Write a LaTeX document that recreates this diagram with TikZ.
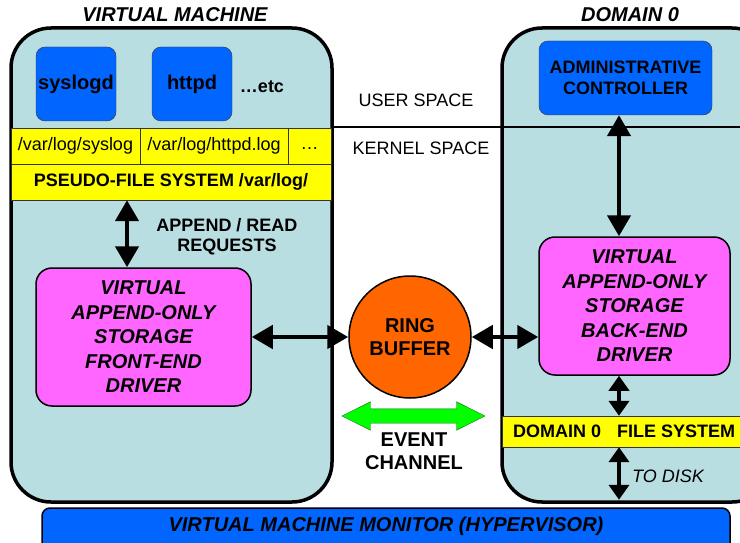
\documentclass[tikz,border=0pt]{standalone}
\usepackage{fontspec}
\setmainfont{Liberation Sans}
\usetikzlibrary{shapes.geometric, shapes.arrows, arrows.meta, positioning, calc}

\definecolor{vmfill}{RGB}{185,222,225}
\definecolor{appblue}{RGB}{0,102,255}
\definecolor{drvpink}{RGB}{255,102,255}
\definecolor{ringorange}{RGB}{255,102,0}
\definecolor{fsyellow}{RGB}{255,255,0}
\definecolor{evgreen}{RGB}{0,255,0}
\newcommand{\pxfont}[2]{\fontsize{#1}{#2}\selectfont}

\begin{document}
\begin{tikzpicture}[
    x=1pt, y=-1pt,
    hostbox/.style={rectangle, rounded corners=40pt, draw, line width=3.5pt, fill=vmfill, inner sep=0pt},
    app/.style={rectangle, rounded corners=9pt, draw=black!80, fill=appblue, align=center, inner sep=0pt, font=\pxfont{20}{23}\bfseries},
    driver/.style={rectangle, rounded corners=16pt, draw, line width=1.5pt, fill=drvpink, align=center, inner sep=0pt, font=\pxfont{20}{24.5}\bfseries\itshape},
    cell/.style={rectangle, draw=black!80, fill=fsyellow, inner sep=0pt, minimum height=36pt, font=\pxfont{18}{21}},
    txt/.style={inner sep=1pt, align=center},
    link/.style={{Triangle[width=23pt,length=21pt]}-{Triangle[width=23pt,length=21pt]}, line width=4.5pt},
    shortlink/.style={{Triangle[width=20pt,length=15pt]}-{Triangle[width=20pt,length=15pt]}, line width=4.5pt}
]
\useasboundingbox (0,0) rectangle (740,543);
\clip (0,0) rectangle (740,543);

% Nodes
\node[hostbox, minimum width=321pt, minimum height=474pt] (vmbox) at (171.5,265) {};
\node[hostbox, minimum width=270pt, minimum height=474pt] (d0box) at (637,265) {};
\node[txt, font=\pxfont{20}{24}\bfseries\itshape] (vmtitle) at (175,15) {VIRTUAL MACHINE};
\node[txt, font=\pxfont{20}{24}\bfseries\itshape] (d0title) at (630,15) {DOMAIN 0};

\coordinate (divl) at (333,127);
\coordinate (divr) at (740,127);
\draw[line width=2pt] (divl) -- (divr);
\node[txt, font=\pxfont{18}{21}] (userspace) at (416,100) {USER SPACE};
\node[txt, font=\pxfont{18}{21}] (kernelspace) at (421,148) {KERNEL SPACE};

\node[app, minimum width=80pt, minimum height=74pt] (syslogd) at (76,84) {syslogd};
\node[app, minimum width=80pt, minimum height=74pt] (httpd) at (192,84) {httpd};
\node[txt, font=\pxfont{18}{21}\bfseries] (etc) at (262,87) {…etc};

\node[cell, minimum width=129pt] (syslogcell) at (75.5,146) {/var/log/syslog};
\node[cell, minimum width=148pt] (httpdcell) at (214,146) {/var/log/httpd.log};
\node[cell, minimum width=43pt] (morecell) at (309.5,146) {\raisebox{-6pt}{…}};
\node[cell, minimum width=320pt, font=\pxfont{18}{21}\bfseries] (pseudofs) at (171,182) {PSEUDO-FILE SYSTEM /var/log/};

\node[txt, font=\pxfont{18}{20.5}\bfseries] (reqlabel) at (227,236.5) {APPEND / READ\\REQUESTS};
\node[driver, minimum width=215pt, minimum height=138pt] (frontend) at (143.5,337) {VIRTUAL\\APPEND-ONLY\\STORAGE\\FRONT-END\\DRIVER};

\node[circle, draw, line width=1.5pt, fill=ringorange, minimum size=122pt, inner sep=0pt, align=center, font=\pxfont{20}{23}\bfseries] (ring) at (410,337) {RING\\BUFFER};
\node[double arrow, draw=black!60!green, fill=evgreen, inner sep=7pt, minimum height=143pt, double arrow head extend=7pt, double arrow tip angle=53] (evarrow) at (413.5,416) {};
\node[txt, font=\pxfont{20}{23}\bfseries] (evlabel) at (414,451) {EVENT\\CHANNEL};

\node[app, minimum width=173pt, minimum height=74pt, font=\pxfont{18}{21}\bfseries] (admin) at (625.5,78) {ADMINISTRATIVE\\CONTROLLER};
\node[driver, minimum width=191pt, minimum height=138pt] (backend) at (634.5,306) {VIRTUAL\\APPEND-ONLY\\STORAGE\\BACK-END\\DRIVER};
\node[cell, minimum width=270pt, minimum height=31pt] (d0fs) at (637,431.5) {};
\node[txt, anchor=west, inner sep=0pt, font=\pxfont{18}{21}\bfseries] (d0fslabel) at (513,431.5) {DOMAIN 0\hspace{16pt}FILE SYSTEM};
\node[txt, font=\pxfont{18}{21}\itshape] (disklabel) at (668,476) {TO DISK};

\node[rectangle, rounded corners=8pt, draw, line width=1.5pt, fill=appblue, minimum width=688pt, minimum height=52pt] (hyper) at (386,534) {};
\node[txt, font=\pxfont{20}{24}\bfseries\itshape] (hypertext) at (386,526.5) {VIRTUAL MACHINE MONITOR (HYPERVISOR)};

% Paths
\coordinate (vmaxis) at (127,0);
\coordinate (d0axis) at (619,0);
\draw[link] (pseudofs.south -| vmaxis) -- (frontend.north -| vmaxis);
\draw[link] (frontend.east) -- (ring.west);
\draw[link] (ring.east) -- (ring.east -| backend.west);
\draw[link] (admin.south -| d0axis) -- (backend.north -| d0axis);
\draw[shortlink] (backend.south -| d0axis) -- (d0fs.north -| d0axis);
\draw[shortlink] (d0fs.south -| d0axis) -- ($(d0box.south -| d0axis)+(0,-4)$);
\end{tikzpicture}
\end{document}
